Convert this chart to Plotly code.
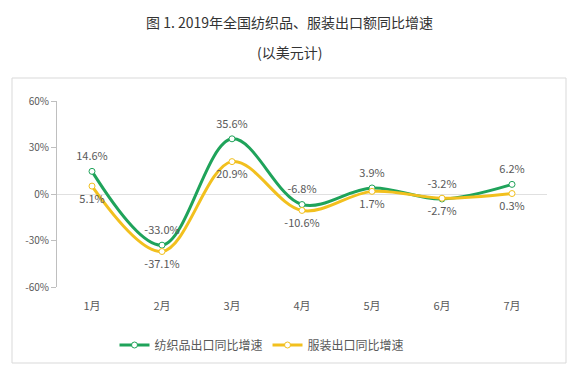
import plotly.graph_objects as go

months = ["1月", "2月", "3月", "4月", "5月", "6月", "7月"]
textile = [14.6, -33.0, 35.6, -6.8, 3.9, -3.2, 6.2]
apparel = [5.1, -37.1, 20.9, -10.6, 1.7, -2.7, 0.3]
series_names = ["纺织品出口同比增速", "服装出口同比增速"]
y_ticks = [-60, -30, 0, 30, 60]

GREEN = "#1fa35a"
YELLOW = "#f2c01e"
FONT = "Noto Sans CJK SC"

W, H = 578, 383
L, R, T, B = 57, 31, 101, 96
pw, ph = W - L - R, H - T - B

fig = go.Figure()
for vals, name, color, pos in [(textile, series_names[0], GREEN, "top center"),
                               (apparel, series_names[1], YELLOW, "bottom center")]:
    fig.add_trace(go.Scatter(
        x=months, y=vals, name=name, mode="lines+markers",
        line=dict(color=color, width=3, shape="spline", smoothing=1.0),
        marker=dict(size=6, color="white", line=dict(color=color, width=1)),
    ))
    fig.add_trace(go.Scatter(
        x=months, y=vals, mode="markers+text", showlegend=False, hoverinfo="skip",
        marker=dict(size=12, color="rgba(0,0,0,0)"),
        text=[f"{v:.1f}%" for v in vals], textposition=pos,
        textfont=dict(size=11, color="#595959", family=FONT),
    ))

def px_x(x):
    return (x - L) / pw

def px_y(y):
    return (H - B - y) / ph

fig.add_shape(type="rect", xref="paper", yref="paper",
              x0=px_x(12), x1=px_x(566), y0=px_y(363), y1=px_y(78),
              line=dict(color="#d9d9d9", width=1), fillcolor="rgba(0,0,0,0)", layer="below")

fig.update_layout(
    width=W, height=H,
    margin=dict(l=L, r=R, t=T, b=B, autoexpand=False),
    paper_bgcolor="white", plot_bgcolor="white",
    font=dict(family=FONT, color="#595959"),
    showlegend=True,
    legend=dict(orientation="h", x=px_x(262), xanchor="center", y=px_y(345), yanchor="middle",
                font=dict(size=12, color="#595959", family=FONT), itemwidth=30,
                tracegroupgap=0),
    xaxis=dict(range=[-0.5, 6.5], showgrid=False, showline=False, zeroline=False,
               ticks="outside", ticklen=9, tickcolor="rgba(0,0,0,0)",
               tickfont=dict(size=11, color="#595959")),
    yaxis=dict(range=[-60, 60], tickvals=y_ticks, ticktext=[f"{v}%" for v in y_ticks],
               showgrid=False, zeroline=True, zerolinecolor="#e0e0e0", zerolinewidth=1,
               showline=True, linecolor="#bfbfbf", linewidth=1,
               ticks="outside", ticklen=5, tickcolor="#bfbfbf",
               tickfont=dict(size=10, color="#595959")),
)

fig.add_annotation(text="图 1. 2019年全国纺织品、服装出口额同比增速", xref="paper", yref="paper",
                   x=px_x(289), y=px_y(22), showarrow=False,
                   font=dict(size=14, color="#333333", family=FONT), xanchor="center", yanchor="middle")
fig.add_annotation(text="(以美元计)", xref="paper", yref="paper",
                   x=px_x(289), y=px_y(52), showarrow=False,
                   font=dict(size=14, color="#333333", family=FONT), xanchor="center", yanchor="middle")

fig.write_html("out.html", config={"displayModeBar": False},
               post_script="document.body.style.margin='0';document.body.style.overflow='hidden';")
